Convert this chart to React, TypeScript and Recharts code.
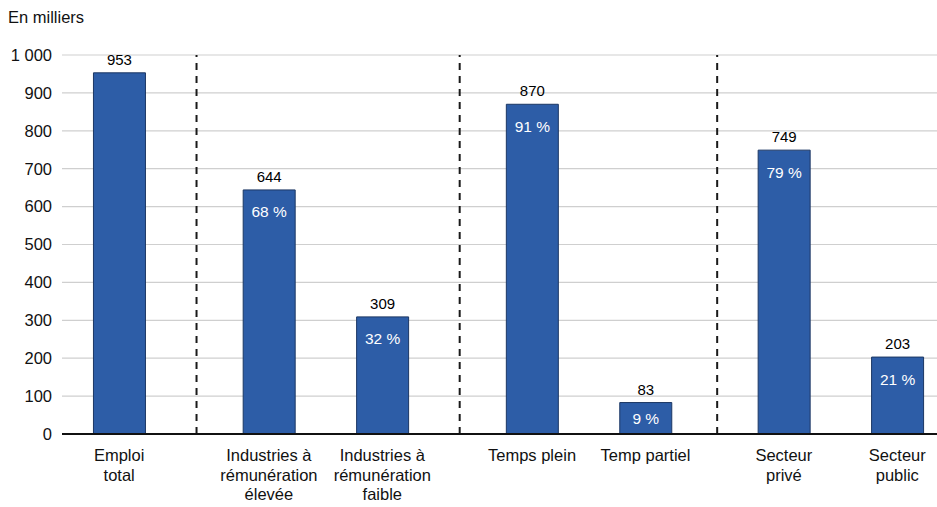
import React from 'react';
import { BarChart, Bar, XAxis, YAxis, CartesianGrid, ReferenceLine, LabelList } from 'recharts';

// ---- data ----
const categories = [
  'Emploi total',
  'Industries à rémunération élevée',
  'Industries à rémunération faible',
  'Temps plein',
  'Temp partiel',
  'Secteur privé',
  'Secteur public',
];
const categoryLines = [
  ['Emploi', 'total'],
  ['Industries à', 'rémunération', 'élevée'],
  ['Industries à', 'rémunération', 'faible'],
  ['Temps plein'],
  ['Temp partiel'],
  ['Secteur', 'privé'],
  ['Secteur', 'public'],
];
const employment = [953, 644, 309, 870, 83, 749, 203];
const shares: (number | null)[] = [null, 68, 32, 91, 9, 79, 21];
const groupOf = [0, 1, 1, 2, 2, 3, 3];
const yTicks = [0, 100, 200, 300, 400, 500, 600, 700, 800, 900, 1000];
const unitLabel = 'En milliers';

// ---- layout (not data) ----
const GROUP_OFFSET = [0, 0.32, 0.64, 0.86];
const DIVIDER_SHIFT = 0.022;
const X_DOMAIN: [number, number] = [-0.504, 7.21];
const FONT = '"Liberation Sans", Arial, Helvetica, sans-serif';

const positions = categories.map((_, i) => i + GROUP_OFFSET[groupOf[i]]);
const dividers: number[] = [];
for (let i = 1; i < categories.length; i++) {
  if (groupOf[i] !== groupOf[i - 1]) dividers.push((positions[i - 1] + positions[i]) / 2 + DIVIDER_SHIFT);
}

const data = categories.map((name, i) => ({
  name,
  pos: positions[i],
  value: employment[i],
  share: shares[i],
}));

const formatThousands = (v: number) => String(v).replace(/\B(?=(\d{3})+(?!\d))/g, ' ');

const XTick = (props: any) => {
  const { x, y, payload } = props;
  const idx = positions.findIndex((p) => Math.abs(p - payload.value) < 1e-6);
  const lines = idx >= 0 ? categoryLines[idx] : [];
  return (
    <g>
      {lines.map((l, i) => (
        <text
          key={i}
          x={x}
          y={y + 27 + i * 19.5}
          textAnchor="middle"
          fontSize={16.5}
          fill="#111"
          fontFamily={FONT}
        >
          {l}
        </text>
      ))}
    </g>
  );
};

const ValueLabel = (props: any) => {
  const { x, y, width, value } = props;
  if (value == null) return null;
  return (
    <text
      x={x + width / 2}
      y={y - 13.5}
      textAnchor="middle"
      dominantBaseline="central"
      fontSize={15}
      fill="#000"
      fontFamily={FONT}
    >
      {formatThousands(value)}
    </text>
  );
};

const ShareLabel = (props: any) => {
  const { x, y, width, height, value } = props;
  if (value == null) return null;
  const cy = Math.min(y + 22, y + height / 2);
  return (
    <text
      x={x + width / 2}
      y={cy}
      textAnchor="middle"
      dominantBaseline="central"
      fontSize={15.5}
      fill="#ffffff"
      fontFamily={FONT}
    >
      {`${value} %`}
    </text>
  );
};

export default function App() {
  return (
    <div style={{ position: 'absolute', left: 0, top: 0, width: 937, height: 507, background: '#fff', fontFamily: FONT }}>
      <div style={{ position: 'absolute', left: 8, top: 7, fontSize: 16.5, lineHeight: '20px', color: '#111' }}>
        {unitLabel}
      </div>
      <BarChart
        width={937}
        height={507}
        data={data}
        margin={{ top: 55, right: 0, bottom: 0, left: 0 }}
        style={{ fontFamily: FONT }}
      >
        <CartesianGrid vertical={false} stroke="#cfcfcf" strokeWidth={1.2} />
        <XAxis
          dataKey="pos"
          type="number"
          domain={X_DOMAIN}
          allowDataOverflow
          ticks={positions}
          interval={0}
          tick={<XTick />}
          tickLine={false}
          tickSize={0}
          tickMargin={0}
          height={73}
          axisLine={{ stroke: '#111', strokeWidth: 2 }}
        />
        <YAxis
          type="number"
          domain={[0, 1000]}
          ticks={yTicks}
          interval={0}
          width={62}
          tickLine={false}
          axisLine={false}
          tickMargin={4}
          tickFormatter={formatThousands}
          tick={{ fontSize: 16.5, fill: '#111', fontFamily: FONT }}
        />
        {dividers.map((d) => (
          <ReferenceLine key={d} x={d} stroke="#1a1a1a" strokeWidth={2} strokeDasharray="7 6" />
        ))}
        <Bar dataKey="value" barSize={52} fill="#2D5DA7" stroke="#1C3764" strokeWidth={1} isAnimationActive={false}>
          <LabelList dataKey="value" content={<ValueLabel />} />
          <LabelList dataKey="share" content={<ShareLabel />} />
        </Bar>
      </BarChart>
    </div>
  );
}
